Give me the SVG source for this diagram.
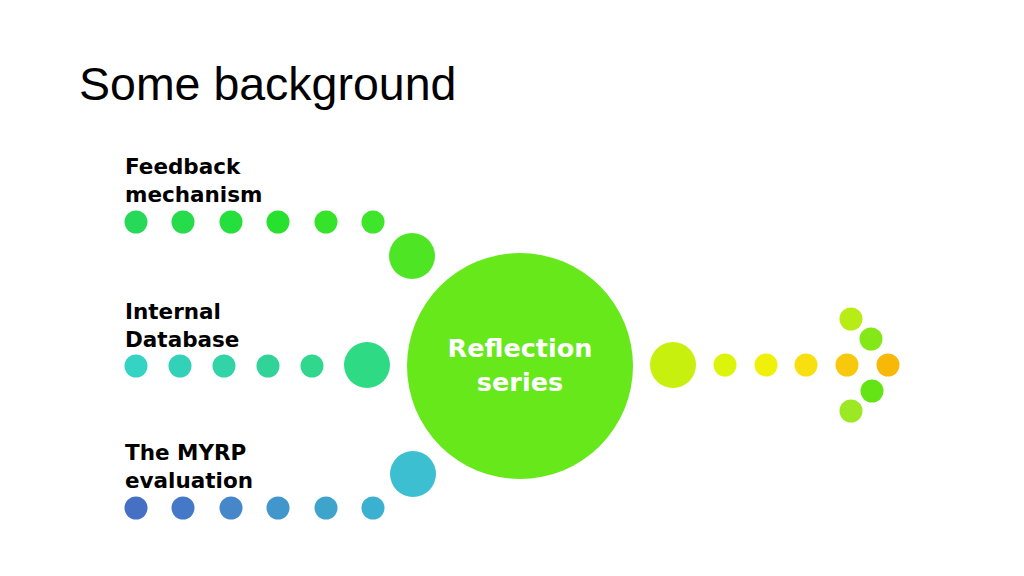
<svg xmlns="http://www.w3.org/2000/svg" width="1024" height="576" viewBox="0 0 1024 576">
<style>
.title{font-family:"Liberation Sans",Arial,sans-serif;font-size:46.5px;fill:#000}
.lbl{font-family:"DejaVu Sans",Verdana,sans-serif;font-size:21.5px;font-weight:bold;fill:#000}
.ctr{font-family:"DejaVu Sans",Verdana,sans-serif;font-size:25.5px;font-weight:bold;fill:#fff;text-anchor:middle}
</style>
<rect width="1024" height="576" fill="#fff"/>
<text class="title" x="79" y="100">Some background</text>
<g id="feedback">
<text class="lbl" x="125" y="174">Feedback</text>
<text class="lbl" x="125" y="202">mechanism</text>
</g>
<g id="internal">
<text class="lbl" x="125" y="319">Internal</text>
<text class="lbl" x="125" y="347">Database</text>
</g>
<g id="myrp">
<text class="lbl" x="125" y="460">The MYRP</text>
<text class="lbl" x="125" y="488">evaluation</text>
</g>
<g id="connectors">
<circle cx="136" cy="222" r="11.5" fill="#27d958"/>
<circle cx="183" cy="222" r="11.5" fill="#26dc4a"/>
<circle cx="231" cy="222" r="11.5" fill="#25e03c"/>
<circle cx="278" cy="222" r="11.5" fill="#28e02e"/>
<circle cx="326" cy="222" r="11.5" fill="#35e42a"/>
<circle cx="373" cy="222" r="11.5" fill="#3fe52a"/>
<circle cx="412" cy="256" r="23" fill="#4ee624"/>
<circle cx="136" cy="366" r="11.5" fill="#34d3c4"/>
<circle cx="180" cy="366" r="11.5" fill="#33d2b8"/>
<circle cx="224" cy="366" r="11.5" fill="#33d3a8"/>
<circle cx="268" cy="366" r="11.5" fill="#31d398"/>
<circle cx="312" cy="366" r="11.5" fill="#32d78e"/>
<circle cx="367" cy="365" r="23" fill="#2fda84"/>
<circle cx="136" cy="508" r="11.5" fill="#4570c4"/>
<circle cx="183" cy="508" r="11.5" fill="#4579c8"/>
<circle cx="231" cy="508" r="11.5" fill="#4587c8"/>
<circle cx="278" cy="508" r="11.5" fill="#4196cc"/>
<circle cx="326" cy="508" r="11.5" fill="#3ea4cc"/>
<circle cx="373" cy="508" r="11.5" fill="#3cb0d0"/>
<circle cx="413" cy="474" r="23" fill="#3cbfd0"/>
<circle cx="673" cy="365" r="23" fill="#c8f00e"/>
<circle cx="725" cy="365" r="11.5" fill="#dcf40a"/>
<circle cx="766" cy="365" r="11.5" fill="#f0f008"/>
<circle cx="806" cy="365" r="11.5" fill="#f8e010"/>
<circle cx="847" cy="365" r="11.5" fill="#f8c80c"/>
<circle cx="888" cy="365" r="11.5" fill="#f8b808"/>
<circle cx="851" cy="319" r="11.5" fill="#b8ec16"/>
<circle cx="871" cy="339" r="11.5" fill="#84e818"/>
<circle cx="872" cy="391" r="11.5" fill="#64e414"/>
<circle cx="851" cy="411" r="11.5" fill="#9ce824"/>
</g>
<g id="reflection">
<circle cx="520" cy="366" r="113" fill="#66e81b"/>
<text class="ctr" x="520" y="357">Reflection</text>
<text class="ctr" x="520" y="391">series</text>
</g>
</svg>
